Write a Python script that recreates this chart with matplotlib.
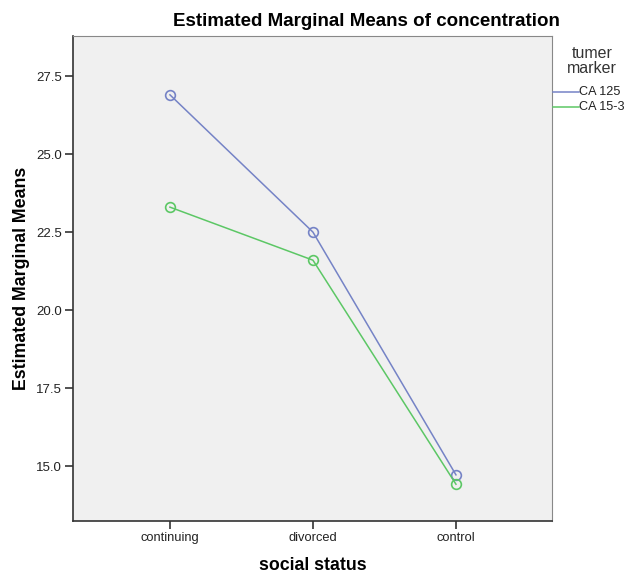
import matplotlib
matplotlib.use("Agg")
import matplotlib.pyplot as plt

plt.rcParams["font.family"] = ["Liberation Sans", "DejaVu Sans"]

categories = ["continuing", "divorced", "control"]
ca125 = [26.9, 22.5, 14.72]
ca153 = [23.3, 21.6, 14.42]
series_names = ["CA 125", "CA 15-3"]
yticks = [15.0, 17.5, 20.0, 22.5, 25.0, 27.5]

colors = ["#7583c6", "#5cc765"]

fig = plt.figure(figsize=(6.27, 5.74), dpi=100)
ax = fig.add_axes([0.1164, 0.0923, 0.880 - 0.1164, 0.937 - 0.0923])
ax.set_facecolor("#f0f0f0")

x = list(range(len(categories)))
for vals, name, c in zip([ca125, ca153], series_names, colors):
    ax.plot(x, vals, color=c, lw=1.1, marker="o", markersize=7,
            markerfacecolor="none", markeredgecolor=c, markeredgewidth=1.2,
            label=name)

ax.set_xlim(-0.678, 2.67)
ax.set_ylim(13.24, 28.78)
ax.set_xticks(x)
ax.set_xticklabels(categories, fontsize=9.3, color="#222222")
ax.set_yticks(yticks)
ax.set_yticklabels([f"{v:.1f}" for v in yticks], fontsize=9.5, color="#222222")
ax.tick_params(length=6, width=1.2, color="#333333", pad=2)

for side in ["top", "right"]:
    ax.spines[side].set_color("#888888")
    ax.spines[side].set_linewidth(0.8)
for side in ["left", "bottom"]:
    ax.spines[side].set_color("#333333")
    ax.spines[side].set_linewidth(1.2)

ax.set_xlabel("social status", fontsize=12.8, fontweight="bold", labelpad=9)
ax.set_ylabel("Estimated Marginal Means", fontsize=12.8, fontweight="bold")
ax.yaxis.set_label_coords(-0.089, 0.5)
fig.text(0.584, 0.963, "Estimated Marginal Means of concentration",
         ha="center", va="center", fontsize=13.5, fontweight="bold")

# legend
fig.text(0.944, 0.893, "tumer\nmarker", ha="center", va="center",
         fontsize=11.5, color="#333333", linespacing=1.0)
leg_y = [0.840, 0.814]
for name, c, y in zip(series_names, colors, leg_y):
    fig.add_artist(plt.Line2D([0.882, 0.924], [y, y], color=c, lw=1.1,
                              transform=fig.transFigure))
    fig.text(0.924, y, name, ha="left", va="center", fontsize=9.1, color="#222222")

fig.savefig("out.png", dpi=100)
